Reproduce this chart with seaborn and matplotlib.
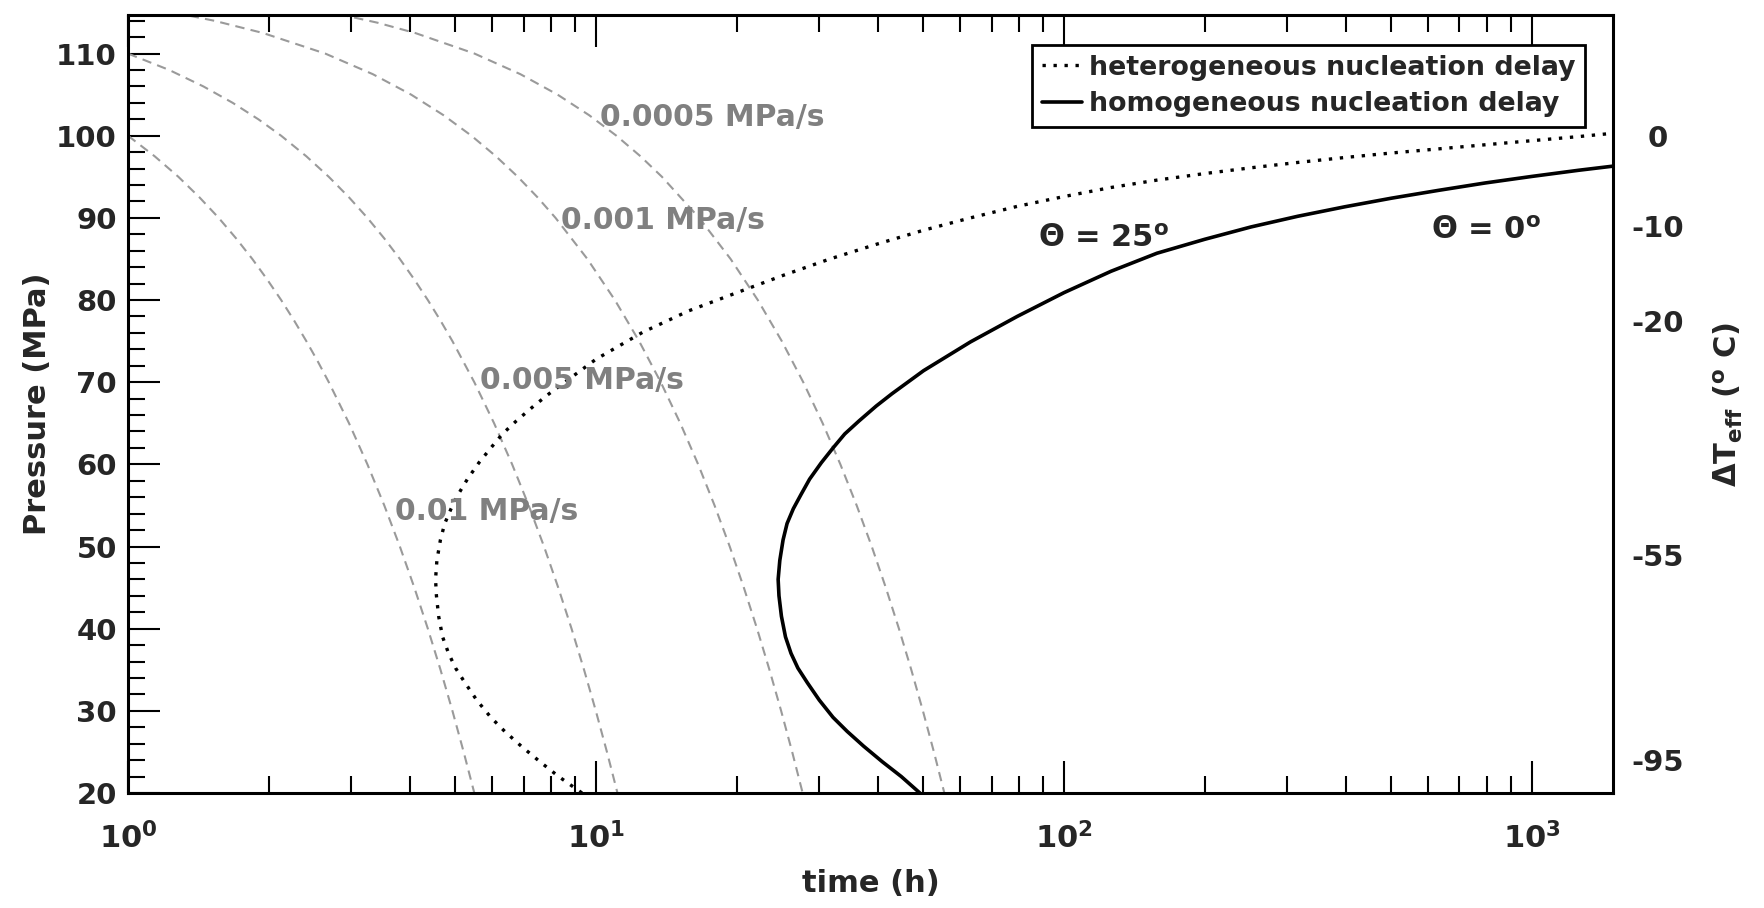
import matplotlib
matplotlib.use("Agg")
import matplotlib.pyplot as plt
import seaborn as sns
from matplotlib.ticker import MultipleLocator, NullFormatter, NullLocator, LogLocator

# ---- data ----
# dashed constant-rate curves (time in h, pressure in MPa)
rate_labels = ["0.01 MPa/s", "0.005 MPa/s", "0.001 MPa/s", "0.0005 MPa/s"]

p_r1 = [100, 97.5, 95, 92.5, 90, 87.5, 85, 82.5, 80, 77.5, 75, 72.5, 70, 65, 60, 55, 50, 45, 40, 35,
        30, 25, 20]
t_r1 = [1.000, 1.140, 1.281, 1.421, 1.562, 1.702, 1.843, 1.983, 2.124, 2.264, 2.404, 2.545, 2.685,
        2.966, 3.247, 3.528, 3.809, 4.090, 4.371, 4.652, 4.933, 5.213, 5.494]

p_r2 = [110, 108, 106, 104, 102, 100, 97.5, 95, 92.5, 90, 87.5, 85, 82.5, 80, 77.5, 75, 70, 65, 60,
        55, 50, 45, 40, 35, 30, 25, 20]
t_r2 = [1.000, 1.225, 1.449, 1.674, 1.899, 2.124, 2.404, 2.685, 2.966, 3.247, 3.528, 3.809, 4.090,
        4.371, 4.652, 4.933, 5.494, 6.056, 6.618, 7.180, 7.742, 8.303, 8.865, 9.427, 9.989, 10.551,
        11.112]

p_r3 = [115.9, 115, 114, 112.5, 110, 107.5, 105, 102.5, 100, 97.5, 95, 92.5, 90, 85, 80, 75, 70, 65,
        60, 55, 50, 45, 40, 35, 30, 25, 20]
t_r3 = [1.000, 1.250, 1.528, 1.944, 2.639, 3.333, 4.028, 4.722, 5.417, 6.111, 6.806, 7.500, 8.194,
        9.583, 10.972, 12.361, 13.750, 15.139, 16.528, 17.917, 19.306, 20.694, 22.083, 23.472,
        24.861, 26.250, 27.639]

p_r4 = [118.1, 117, 116, 115, 113.75, 112.5, 110, 107.5, 105, 102.5, 100, 97.5, 95, 90, 85, 80, 75,
        70, 65, 60, 55, 50, 45, 40, 35, 30, 25, 20]
t_r4 = [1.000, 1.611, 2.167, 2.722, 3.417, 4.111, 5.500, 6.889, 8.278, 9.667, 11.056, 12.444, 13.833,
        16.611, 19.389, 22.167, 24.944, 27.722, 30.500, 33.278, 36.056, 38.833, 41.611, 44.389,
        47.167, 49.944, 52.722, 55.500]

# heterogeneous nucleation delay (theta = 25 deg)
t_het = [9.33, 8.32, 7.59, 6.92, 6.38, 5.96, 5.56, 5.25, 5.01, 4.84, 4.70, 4.61, 4.56, 4.54, 4.57,
         4.65, 4.75, 4.90, 5.07, 5.31, 5.62, 5.96, 6.31, 6.76, 7.36, 7.94, 10.0, 12.6, 15.8, 20.0,
         25.1, 31.6, 39.8, 50.1, 63.1, 79.4, 100, 126, 158, 200, 251, 316, 398, 501, 631, 794, 1000,
         1259, 1490]
p_het = [20.0, 22.0, 23.8, 25.7, 27.5, 29.2, 31.3, 33.4, 35.2, 37.0, 39.0, 41.5, 44.0, 46.0, 48.3,
         50.8, 52.8, 54.6, 56.3, 58.2, 60.2, 62.0, 63.7, 65.3, 67.1, 68.6, 72.8, 76.1, 78.7, 80.9,
         83.0, 85.0, 86.8, 88.5, 90.0, 91.4, 92.6, 93.7, 94.6, 95.4, 96.1, 96.75, 97.35, 97.9, 98.4,
         98.9, 99.4, 99.9, 100.3]

# homogeneous nucleation delay (theta = 0 deg)
t_hom = [49.2, 44.9, 40.9, 37.3, 34.4, 32.1, 30.0, 28.3, 27.0, 26.1, 25.4, 24.9, 24.6, 24.5, 24.7,
         25.1, 25.6, 26.4, 27.4, 28.6, 30.3, 32.1, 34.0, 36.5, 39.7, 42.9, 50.1, 63.1, 79.4, 100,
         126, 158, 200, 251, 316, 398, 501, 631, 794, 1000, 1259, 1490]
p_hom = [20.0, 22.0, 23.8, 25.7, 27.5, 29.2, 31.3, 33.4, 35.2, 37.0, 39.0, 41.5, 44.0, 46.0, 48.3,
         50.8, 52.8, 54.6, 56.3, 58.2, 60.2, 62.0, 63.7, 65.3, 67.1, 68.6, 71.4, 74.9, 78.0, 80.9,
         83.5, 85.7, 87.4, 88.9, 90.2, 91.35, 92.4, 93.35, 94.25, 95.05, 95.8, 96.3]

# right axis: effective undercooling labels at pressure positions
dT_pos = [100, 89, 77.5, 49, 24]
dT_labels = ["0", "-10", "-20", "-55", "-95"]

x_ticks = [1, 10, 100, 1000]
x_ticklabels = [r"$\mathbf{10^{0}}$", r"$\mathbf{10^{1}}$", r"$\mathbf{10^{2}}$", r"$\mathbf{10^{3}}$"]

# ---- style ----
sns.set_style("ticks")
plt.rcParams["font.family"] = ["DejaVu Sans"]
plt.rcParams["font.weight"] = "bold"

fig = plt.figure(figsize=(17.64, 9.08), dpi=100)
ax = fig.add_axes([0.0726, 0.1267, 0.8418, 0.8568])
ax.set_xscale("log")

dash_kw = dict(color="#9a9a9a", linewidth=1.5, linestyle=(0, (4.5, 3)))
for tt, pp in [(t_r1, p_r1), (t_r2, p_r2), (t_r3, p_r3), (t_r4, p_r4)]:
    sns.lineplot(x=tt, y=pp, sort=False, estimator=None, ax=ax, **dash_kw)

sns.lineplot(x=t_het, y=p_het, sort=False, estimator=None, ax=ax,
             color="black", linewidth=2.4, linestyle=(0, (1, 2.3)))
h_het = ax.lines[-1]
sns.lineplot(x=t_hom, y=p_hom, sort=False, estimator=None, ax=ax,
             color="black", linewidth=2.6)
h_hom = ax.lines[-1]

ax.set_xlim(1, 1490)
ax.set_ylim(20, 114.7)

ax.set_xticks(x_ticks, x_ticklabels)
ax.xaxis.set_minor_locator(LogLocator(base=10, subs=range(2, 10)))
ax.xaxis.set_minor_formatter(NullFormatter())
ax.set_yticks(range(20, 111, 10))
ax.yaxis.set_minor_locator(MultipleLocator(2))

ax.tick_params(which="both", direction="in", top=True, right=True, width=1.5, color="black")
ax.tick_params(which="major", length=23)
ax.tick_params(which="minor", length=12)
ax.tick_params(axis="y", labelsize=21, pad=8)
ax.tick_params(axis="x", labelsize=22, pad=21)
for s in ax.spines.values():
    s.set_linewidth(2.2)
    s.set_color("black")

ax.set_xlabel("time (h)", fontsize=22, fontweight="bold", labelpad=10)
ax.set_ylabel("Pressure (MPa)", fontsize=22, fontweight="bold", labelpad=3)

# rate labels
rate_pos = [(3.72, 54.2), (5.65, 70.2), (8.4, 89.7), (10.2, 102.2)]
for lab, (tx, py) in zip(rate_labels, rate_pos):
    ax.text(tx, py, lab, color="#808080", fontsize=21.5, fontweight="bold", ha="left", va="center")

ax.text(88, 87.5, r"$\mathrm{\Theta}$ = 25$^{\mathbf{o}}$", fontsize=22, fontweight="bold",
        ha="left", va="center")
ax.text(609, 88.5, r"$\mathrm{\Theta}$ = 0$^{\mathbf{o}}$", fontsize=22, fontweight="bold",
        ha="left", va="center")

leg = ax.legend([h_het, h_hom], ["heterogeneous nucleation delay", "homogeneous nucleation delay"],
                loc="upper right", bbox_to_anchor=(0.981, 0.961), borderaxespad=0,
                prop={"weight": "bold", "size": 19.3}, fancybox=False, framealpha=1,
                edgecolor="black", handlelength=1.5, handletextpad=0.25, borderpad=0.35,
                labelspacing=0.4)
leg.get_frame().set_linewidth(2)

# right-hand undercooling axis
tw = ax.twinx()
tw.set_ylim(ax.get_ylim())
tw.set_yticks(dT_pos, dT_labels)
tw.yaxis.set_minor_locator(NullLocator())
tw.tick_params(axis="y", length=0, pad=32, labelsize=21)
for lbl in tw.get_yticklabels():
    lbl.set_horizontalalignment("center")
for s in tw.spines.values():
    s.set_visible(False)
tw.set_ylabel(r"$\mathrm{\Delta}$T$_{\mathbf{eff}}$ ($^{\mathbf{o}}$ C)", fontsize=22,
              fontweight="bold", labelpad=20)

fig.savefig("out.png", dpi=100)
